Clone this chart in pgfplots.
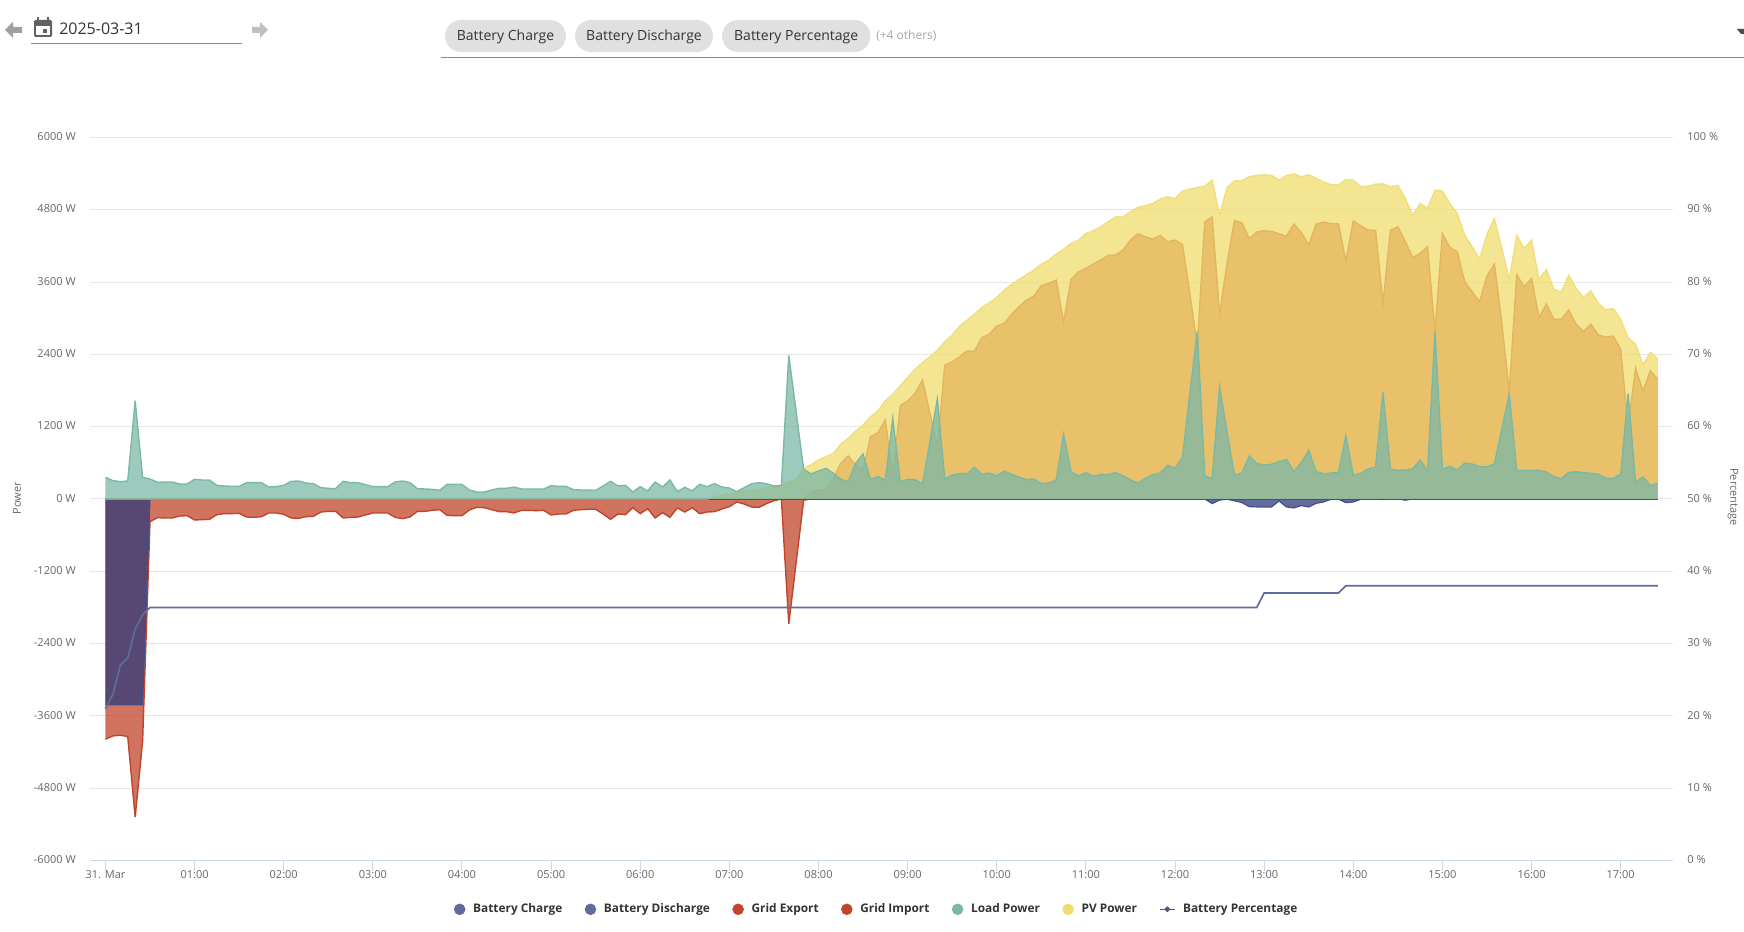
\documentclass[border=0pt]{standalone}
\usepackage{fontspec}
\setmainfont{Open Sans}
\usepackage{pgfplots}
\usepackage{pgfplotstable}
\pgfplotsset{compat=1.18}
\definecolor{cbat}{RGB}{46,58,122}
\definecolor{cbatl}{RGB}{96,107,155}
\definecolor{cred}{RGB}{192,69,43}
\definecolor{cteal}{RGB}{123,184,166}
\definecolor{cyel}{RGB}{240,220,110}
\definecolor{cgrid}{RGB}{230,230,230}
\definecolor{caxis}{RGB}{204,214,235}
\definecolor{ctxt}{RGB}{102,102,102}
\definecolor{cdark}{RGB}{51,51,51}
\pgfplotstableread{
t imp exp bat load pv pct
0 -3987 0 -3417 360 0 21
5 -3932 0 -3417 304 0 23
10 -3921 0 -3417 288 0 27
15 -3943 0 -3417 299 0 28
20 -5281 0 -3417 1631 0 32
25 -4026 0 -3417 360 0 34
30 -376 0 0 332 0 35
35 -310 0 0 277 0 35
40 -315 0 0 282 0 35
45 -315 0 0 282 0 35
50 -282 0 0 249 0 35
55 -277 0 0 249 0 35
60 -348 0 0 326 0 35
65 -343 0 0 315 0 35
70 -337 0 0 315 0 35
75 -260 0 0 227 0 35
80 -243 0 0 216 0 35
85 -243 0 0 210 0 35
90 -238 0 0 210 0 35
95 -299 0 0 271 0 35
100 -304 0 0 271 0 35
105 -293 0 0 271 0 35
110 -232 0 0 199 0 35
115 -232 0 0 205 0 35
120 -254 0 0 227 0 35
125 -315 0 0 293 0 35
130 -321 0 0 299 0 35
135 -293 0 0 265 0 35
140 -288 0 0 254 0 35
145 -216 0 0 188 0 35
150 -205 0 0 177 0 35
155 -205 0 0 171 0 35
160 -315 0 0 293 0 35
165 -304 0 0 271 0 35
170 -299 0 0 271 0 35
175 -265 0 0 238 0 35
180 -232 0 0 205 0 35
185 -232 0 0 205 0 35
190 -232 0 0 205 0 35
195 -304 0 0 282 0 35
200 -326 0 0 299 0 35
205 -299 0 0 271 0 35
210 -205 0 0 171 0 35
215 -205 0 0 166 0 35
220 -188 0 0 160 0 35
225 -177 0 0 144 0 35
230 -271 0 0 243 0 35
235 -277 0 0 243 0 35
240 -277 0 0 243 0 35
245 -182 0 0 149 0 35
250 -138 0 0 116 0 35
255 -144 0 0 116 0 35
260 -177 0 0 149 0 35
265 -210 0 0 177 0 35
270 -210 0 0 177 0 35
275 -232 0 0 199 0 35
280 -188 0 0 166 0 35
285 -188 0 0 166 0 35
290 -194 0 0 166 0 35
295 -188 0 0 166 0 35
300 -265 0 0 221 0 35
305 -249 0 0 210 0 35
310 -249 0 0 210 0 35
315 -188 0 0 155 0 35
320 -177 0 0 149 0 35
325 -171 0 0 149 0 35
330 -171 0 0 144 0 35
335 -249 0 0 216 0 35
340 -337 0 0 293 0 35
345 -249 0 0 216 0 35
350 -260 0 0 227 0 35
355 -144 0 0 116 0 35
360 -243 0 0 205 0 35
365 -160 0 0 133 0 35
370 -315 0 0 282 0 35
375 -227 0 0 199 0 35
380 -304 0 0 315 0 35
385 -149 0 0 122 0 35
390 -216 0 0 194 0 35
395 -144 0 0 133 0 35
400 -243 0 0 243 0 35
405 -216 0 0 205 0 35
410 -210 0 0 254 39 35
415 -166 0 0 199 60 35
420 -127 0 0 182 85 35
425 -50 0 0 122 110 35
430 -83 0 0 188 130 35
435 -133 0 0 254 150 35
440 -138 0 0 271 166 35
445 -77 0 0 254 190 35
450 -28 0 0 216 210 35
455 0 0 0 221 232 35
460 -2074 0 0 2383 280 35
465 -1045 0 0 1438 326 35
470 -20 0 0 492 509 35
475 0 122 0 415 570 35
480 0 149 0 465 647 35
485 0 166 0 509 702 35
490 0 343 0 426 757 35
495 0 592 0 326 912 35
500 0 713 0 288 1006 35
505 0 564 0 592 1128 35
510 0 481 0 747 1228 35
515 0 1034 0 326 1366 35
520 0 1100 0 370 1465 35
525 0 1311 0 315 1631 35
530 0 370 0 1338 1736 35
535 0 1548 0 288 1880 35
540 0 1626 0 326 2018 35
545 0 1753 0 321 2157 35
550 0 1974 0 249 2262 35
555 0 1421 0 951 2361 35
560 0 868 0 1659 2472 35
565 0 2223 0 326 2610 35
570 0 2278 0 398 2720 35
575 0 2361 0 420 2870 35
580 0 2455 0 420 2970 35
585 0 2455 0 525 3069 35
590 0 2677 0 409 3180 35
595 0 2737 0 431 3257 35
600 0 2870 0 387 3346 35
605 0 2914 0 459 3467 35
610 0 3064 0 409 3561 35
615 0 3191 0 360 3644 35
620 0 3301 0 321 3722 35
625 0 3368 0 332 3799 35
630 0 3539 0 254 3899 35
635 0 3578 0 265 3965 35
640 0 3633 0 315 4065 35
645 0 2931 0 1073 4142 35
650 0 3644 0 453 4242 35
655 0 3771 0 381 4297 35
660 0 3827 0 437 4407 35
665 0 3899 0 376 4452 35
670 0 3965 0 409 4518 35
675 0 4042 0 404 4601 35
680 0 4048 0 437 4684 35
685 0 4131 0 387 4684 35
690 0 4297 0 315 4767 35
695 0 4402 0 265 4839 35
700 0 4352 0 343 4866 35
705 0 4313 0 404 4905 35
710 0 4374 0 431 4977 35
715 0 4269 0 558 5016 35
720 0 4297 0 509 4983 35
725 0 4225 0 691 5110 35
730 0 3412 0 1753 5143 35
735 0 2527 0 2782 5171 35
740 0 4601 0 381 5193 35
745 0 4678 -77 343 5292 35
750 0 3064 -17 1858 4712 35
755 0 3910 -5 1117 5171 35
760 0 4623 -30 398 5281 35
765 0 4584 -60 426 5281 35
770 0 4319 -127 713 5353 35
775 0 4430 -132 592 5370 35
780 0 4452 -132 564 5381 37
785 0 4441 -132 575 5370 37
790 0 4402 -33 619 5292 37
795 0 4363 -132 658 5370 37
800 0 4562 -149 453 5397 37
805 0 4424 -110 603 5348 37
810 0 4214 -133 807 5381 37
815 0 4562 -72 453 5320 37
820 0 4595 -50 420 5259 37
825 0 4568 -5 431 5220 37
830 0 4568 0 437 5215 37
835 0 3948 -61 1051 5303 38
840 0 4617 -50 398 5292 38
845 0 4535 -5 426 5182 38
850 0 4463 0 498 5193 38
855 0 4457 0 531 5226 38
860 0 3246 -10 1770 5231 38
865 0 4463 0 498 5182 38
870 0 4518 0 476 5204 38
875 0 4269 -20 481 4988 38
880 0 4004 0 503 4706 38
885 0 4076 0 647 4905 38
890 0 4186 0 465 4828 38
895 0 2776 0 2776 5126 38
900 0 4407 0 498 5110 38
905 0 4175 0 542 4905 38
910 0 4103 0 481 4739 38
915 0 3606 0 597 4380 38
920 0 3440 0 581 4186 38
925 0 3274 0 536 3987 38
930 0 3700 0 536 4396 38
935 0 3899 0 581 4656 38
940 0 2914 0 1161 4159 38
945 0 1781 0 1742 3644 38
950 0 3722 0 470 4380 38
955 0 3523 0 476 4159 38
960 0 3661 0 470 4297 38
965 0 3014 0 476 3650 38
970 0 3235 0 448 3810 38
975 0 2981 0 370 3478 38
980 0 2981 0 337 3440 38
985 0 3136 0 442 3716 38
990 0 2898 0 453 3495 38
995 0 2782 0 437 3346 38
1000 0 2903 0 426 3456 38
1005 0 2721 0 409 3246 38
1010 0 2688 0 343 3136 38
1015 0 2704 0 343 3163 38
1020 0 2483 0 409 2981 38
1025 0 1200 0 1753 2677 38
1030 0 2168 0 276 2571 38
1035 0 1792 0 365 2229 38
1040 0 2129 0 221 2433 38
1045 0 1985 0 260 2323 38
}\power
\newcommand{\sz}[1]{\fontsize{#1}{#1}\selectfont}
\begin{document}
\begin{tikzpicture}[x=0.75pt,y=0.75pt]
\path[use as bounding box] (0,0) rectangle (1744,931);
\begin{axis}[
  at={(67.5pt,52.875pt)},anchor=south west,
  scale only axis,width=1187pt,height=542.25pt,
  xmin=-10.4,xmax=1055,ymin=-6000,ymax=6000,
  axis x line*=bottom,axis y line*=left,
  y axis line style={draw=none},
  x axis line style={draw=caxis,line width=0.75pt,-},
  xtick={0,60,...,1020},
  xticklabels={31. Mar,01:00,02:00,03:00,04:00,05:00,06:00,07:00,08:00,09:00,10:00,11:00,12:00,13:00,14:00,15:00,16:00,17:00},
  ytick={-6000,-4800,-3600,-2400,-1200,0,1200,2400,3600,4800,6000},
  yticklabels={-6000 W,-4800 W,-3600 W,-2400 W,-1200 W,0 W,1200 W,2400 W,3600 W,4800 W,6000 W},
  ymajorgrids,grid style={cgrid,line width=0.75pt},
  x tick style={draw=caxis,line width=0.75pt},
  y tick style={draw=none},
  tick align=outside,tickwidth=7.5pt,
  ticklabel style={font=\sz{8.25pt},text=ctxt},
  xticklabel style={yshift=3.3pt},
  yticklabel style={xshift=0.3pt,yshift=0.6pt},
  legend style={at={(0.2298,-0.0675)},anchor=west,draw=none,fill=none,inner sep=0pt,
    font=\bfseries\sz{8.9pt},text=cdark,
    /tikz/every even column/.append style={column sep=14.8pt},
    /tikz/every odd column/.append style={column sep=3.8pt}},
  legend columns=-1,
]
\addplot[forget plot,draw=none,fill=cred,fill opacity=0.75] table[x=t,y=imp]{\power}\closedcycle;
\addplot[forget plot,cred,line width=1.05pt] table[x=t,y=imp]{\power};
\addplot[forget plot,draw=none,fill=cred,fill opacity=0.75] table[x=t,y=exp]{\power}\closedcycle;
\addplot[forget plot,cred,line width=1.05pt] table[x=t,y=exp]{\power};
\addplot[forget plot,draw=none,fill=cbat,fill opacity=0.75] table[x=t,y=bat]{\power}\closedcycle;
\addplot[forget plot,cbat!60!cbatl,line width=0.85pt] table[x=t,y=bat]{\power};
\addplot[forget plot,cbat!60!cbatl,line width=0.85pt] coordinates {(0,0) (1045,0)};
\addplot[forget plot,draw=none,fill=cyel,fill opacity=0.75] table[x=t,y=pv]{\power}\closedcycle;
\addplot[forget plot,cyel,line width=1.05pt,opacity=0.85] table[x=t,y=pv]{\power};
\addplot[forget plot,draw=none,fill=cteal,fill opacity=0.75] table[x=t,y=load]{\power}\closedcycle;
\addplot[forget plot,cteal,line width=1.05pt] table[x=t,y=load]{\power};
\addlegendimage{legend image code/.code={\fill[cbatl] (0pt,0pt) circle (4.1pt);}}
\addlegendentry{Battery Charge}
\addlegendimage{legend image code/.code={\fill[cbatl] (0pt,0pt) circle (4.1pt);}}
\addlegendentry{Battery Discharge}
\addlegendimage{legend image code/.code={\fill[cred] (0pt,0pt) circle (4.1pt);}}
\addlegendentry{Grid Export}
\addlegendimage{legend image code/.code={\fill[cred] (0pt,0pt) circle (4.1pt);}}
\addlegendentry{Grid Import}
\addlegendimage{legend image code/.code={\fill[cteal] (0pt,0pt) circle (4.1pt);}}
\addlegendentry{Load Power}
\addlegendimage{legend image code/.code={\fill[cyel] (0pt,0pt) circle (4.1pt);}}
\addlegendentry{PV Power}
\addlegendimage{legend image code/.code={\draw[cbatl!80!black,line width=1pt] (-5.5pt,0pt)--(5.5pt,0pt);\fill[cbatl!80!black] (-2pt,0)--(0,2pt)--(2pt,0)--(0,-2pt)--cycle;}}
\addlegendentry{Battery Percentage}
\end{axis}
\begin{axis}[
  at={(67.5pt,52.875pt)},anchor=south west,
  scale only axis,width=1187pt,height=542.25pt,
  xmin=-10.4,xmax=1055,ymin=0,ymax=100,
  axis x line=none,axis y line*=right,
  y axis line style={draw=none},
  y tick style={draw=none},
  ytick={0,10,...,100},
  yticklabels={0 \%,10 \%,20 \%,30 \%,40 \%,50 \%,60 \%,70 \%,80 \%,90 \%,100 \%},
  ticklabel style={font=\sz{8.25pt},text=ctxt},
  yticklabel style={xshift=7.5pt,yshift=0.6pt},
]
\addplot[cbatl,line width=1.25pt] table[x=t,y=pct]{\power};
\end{axis}
\begin{scope}[x=0.75pt,y=-0.75pt,yshift=698.25pt]
\node[rotate=90,text=ctxt,font=\sz{8.25pt}] at (17,498) {Power};
\node[rotate=270,text=ctxt,font=\sz{8.25pt}] at (1733,497) {Percentage};
% date picker
\fill[gray!75] (5,30)--(13,22)--(13,27)--(22,27)--(22,33)--(13,33)--(13,38)--cycle;
\fill[gray!50] (268,30)--(260,22)--(260,27)--(252,27)--(252,33)--(260,33)--(260,38)--cycle;
\fill[black!62,rounded corners=1pt] (34,20) rectangle (52,37);
\fill[white] (36,26) rectangle (50,35);
\fill[black!62] (37,17) rectangle (39,21);
\fill[black!62] (47,17) rectangle (49,21);
\fill[black!62] (43,29) rectangle (47,33);
\node[anchor=west,inner sep=0pt,text=cdark,font=\sz{12pt}] at (59,29) {2025-03-31};
\draw[black!45,line width=0.75pt] (31,44)--(242,44);
% pills
\fill[black!12,rounded corners=12pt] (445,20) rectangle (566,52);
\fill[black!12,rounded corners=12pt] (575,20) rectangle (713,52);
\fill[black!12,rounded corners=12pt] (722,20) rectangle (870.5,52);
\node[text=cdark,font=\sz{10.5pt}] at (505.5,37.2) {Battery Charge};
\node[text=cdark,font=\sz{10.5pt}] at (644,37.2) {Battery Discharge};
\node[text=cdark,font=\sz{10.5pt}] at (796.2,37.2) {Battery Percentage};
\node[anchor=west,inner sep=0pt,text=black!35,font=\sz{9pt}] at (876,36) {(+4 others)};
\draw[black!45,line width=0.75pt] (441,57.3)--(1744,57.3);
\fill[black!70] (1737,29)--(1744,29)--(1744,34)--(1741,34)--cycle;
\end{scope}
\end{tikzpicture}
\end{document}
